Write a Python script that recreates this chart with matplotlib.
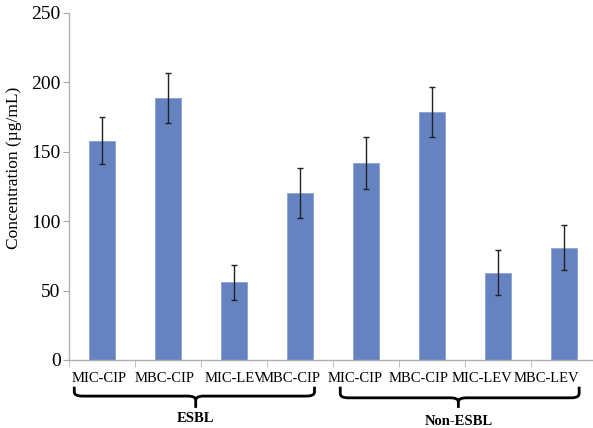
import matplotlib.pyplot as plt
from matplotlib.path import Path
from matplotlib.patches import PathPatch

plt.rcParams['font.family'] = ['Liberation Serif', 'DejaVu Serif']

categories = ['MIC-CIP', 'MBC-CIP', 'MIC-LEV', 'MBC-CIP',
              'MIC-CIP', 'MBC-CIP', 'MIC-LEV', 'MBC-LEV']
values = [158, 189, 56, 120, 142, 179, 63, 81]
errors = [17, 18, 12.5, 18, 19, 18, 16, 16]
groups = ['ESBL', 'Non-ESBL']

# label placement (labels sit a bit left of the bars in the original)
label_x = [-0.04, 0.95, 2.01, 2.86, 3.83, 4.80, 5.76, 6.74]

fig = plt.figure(figsize=(5.93, 4.28), dpi=100)
ax = fig.add_axes([69 / 593, 68 / 428, 1 - 69 / 593, 347 / 428])

x = list(range(len(values)))
ax.bar(x, values, width=0.39, color='#6683c1', edgecolor='#8aa2d2', linewidth=0.6,
       zorder=2)
ax.errorbar(x, values, yerr=errors, fmt='none', ecolor='#222222', elinewidth=1,
            capsize=2.5, capthick=1, zorder=3)

ax.set_xlim(-0.5, 7.44)
ax.set_ylim(0, 250)
ax.set_yticks(range(0, 251, 50))
ax.tick_params(axis='y', labelsize=14, length=4, color='#a8a8a8', pad=2)

ax.set_xticks([])
ax.set_xticks([i - 0.5 for i in range(1, 8)] + [-0.5], minor=True)
ax.tick_params(axis='x', which='minor', length=5, color='#b8b8b8', direction='out')

for s in ['top', 'right']:
    ax.spines[s].set_visible(False)
for s in ['left', 'bottom']:
    ax.spines[s].set_color('#b0b0b0')
    ax.spines[s].set_linewidth(1)

ax.set_ylabel('Concentration (µg/mL)', fontsize=12.5)
ax.yaxis.set_label_coords(-0.09, 0.553)

trans = ax.get_xaxis_transform()
for lx, lab in zip(label_x, categories):
    ax.text(lx, -0.052, lab, transform=trans, ha='center', va='center',
            fontsize=10.5)


def brace(x0, x1, xm, ytop, ymid, ytip):
    r = 0.12
    dy = 0.012
    verts = [(x0, ytop), (x0, ymid + dy), (x0, ymid), (x0 + r, ymid),
             (xm - r, ymid), (xm, ymid), (xm, ymid - dy), (xm, ytip),
             (xm, ymid - dy), (xm, ymid), (xm + r, ymid),
             (x1 - r, ymid), (x1, ymid), (x1, ymid + dy), (x1, ytop)]
    codes = [Path.MOVETO, Path.LINETO, Path.CURVE3, Path.CURVE3,
             Path.LINETO, Path.CURVE3, Path.CURVE3, Path.LINETO,
             Path.MOVETO, Path.CURVE3, Path.CURVE3,
             Path.LINETO, Path.CURVE3, Path.CURVE3, Path.LINETO]
    p = PathPatch(Path(verts, codes), transform=trans, fill=False,
                  edgecolor='black', linewidth=2, clip_on=False)
    ax.add_patch(p)


brace(-0.42, 3.22, 1.42, -0.077, -0.104, -0.138)
brace(3.61, 7.23, 5.40, -0.077, -0.109, -0.138)

ax.text(1.42, -0.169, groups[0], transform=trans, ha='center', va='center',
        fontsize=10.5, fontweight='bold')
ax.text(5.40, -0.176, groups[1], transform=trans, ha='center', va='center',
        fontsize=10.5, fontweight='bold')

fig.savefig('out.png', dpi=100)
